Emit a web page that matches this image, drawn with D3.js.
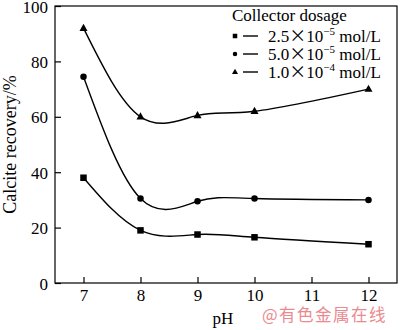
<!DOCTYPE html>
<html>
<head>
<meta charset="utf-8">
<script src="https://cdn.jsdelivr.net/npm/d3@7"></script>
<style>
  html, body { margin: 0; padding: 0; background: #fff; }
  svg { display: block; }
  svg text { font-family: "Liberation Serif", "Times New Roman", serif; fill: #000; }
</style>
</head>
<body>
<svg id="chart" width="400" height="330"></svg>
<script>
// pH values at which recovery was measured
const pH = [7, 8, 9, 10, 12];
// Calcite recovery (%) for each collector dosage
const low = [38, 19, 17.5, 16.5, 14];        // 2.5×10^-5 mol/L
const mid = [74.5, 30.5, 29.5, 30.5, 30];    // 5.0×10^-5 mol/L
const high = [92, 60, 60.5, 62, 70];         // 1.0×10^-4 mol/L
const xTicks = [7, 8, 9, 10, 11, 12];
const yTicks = [0, 20, 40, 60, 80, 100];
const seriesNames = ["2.5", "5.0", "1.0"];
const seriesExp = ["−5", "−5", "−4"];

const serif = "'Liberation Serif', 'Times New Roman', serif";
const svg = d3.select("#chart");
const m = { left: 55, right: 397, top: 6, bottom: 283 };

const x = d3.scaleLinear().domain([6.5, 12.5]).range([m.left, m.right]);
const y = d3.scaleLinear().domain([0, 100]).range([m.bottom, m.top]);

// frame
svg.append("rect")
  .attr("x", m.left).attr("y", m.top)
  .attr("width", m.right - m.left).attr("height", m.bottom - m.top)
  .attr("fill", "none").attr("stroke", "#000").attr("stroke-width", 1.2);

// axes with inward ticks
const xAxis = svg.append("g")
  .attr("transform", `translate(0,${m.bottom})`)
  .call(d3.axisBottom(x).tickValues(xTicks).tickFormat(d3.format("d"))
    .tickSizeInner(-6).tickSizeOuter(0).tickPadding(6));
const yAxis = svg.append("g")
  .attr("transform", `translate(${m.left},0)`)
  .call(d3.axisLeft(y).tickValues(yTicks).tickFormat(d3.format("d"))
    .tickSizeInner(-6).tickSizeOuter(0).tickPadding(7));

[xAxis, yAxis].forEach(g => {
  g.select(".domain").remove();
  g.attr("font-family", serif).attr("font-size", 17);
  g.selectAll(".tick line").attr("stroke", "#000").attr("stroke-width", 1.2);
  g.selectAll(".tick text")
    .style("font-family", serif)
    .style("font-size", "17px").style("fill", "#000");
});
yAxis.selectAll(".tick text").attr("dy", "0.36em");

// series
const data = [low, mid, high];
const line = d3.line()
  .x((d, i) => x(pH[i]))
  .y(d => y(d))
  .curve(d3.curveNatural);

data.forEach(vals => {
  svg.append("path")
    .attr("d", line(vals))
    .attr("fill", "none")
    .attr("stroke", "#000")
    .attr("stroke-width", 1.4);
});

function marker(g, type, cx, cy, s) {
  if (type === 0) {
    g.append("rect").attr("x", cx - s / 2).attr("y", cy - s / 2)
      .attr("width", s).attr("height", s).attr("fill", "#000");
  } else if (type === 1) {
    g.append("circle").attr("cx", cx).attr("cy", cy).attr("r", s / 2).attr("fill", "#000");
  } else {
    const h = s * 0.9;
    g.append("path")
      .attr("d", `M${cx},${cy - h * 0.62}L${cx + s / 2},${cy + h * 0.38}L${cx - s / 2},${cy + h * 0.38}Z`)
      .attr("fill", "#000");
  }
}

const marks = svg.append("g");
data.forEach((vals, k) => {
  vals.forEach((v, i) => marker(marks, k, x(pH[i]), y(v), k === 2 ? 8 : 6.5));
});

// legend
const leg = svg.append("g");
leg.append("text").attr("x", 232).attr("y", 21).attr("font-size", 17).text("Collector dosage");
seriesNames.forEach((name, k) => {
  const cy = 36 + k * 18;
  marker(leg, k, 235, cy, k === 2 ? 6 : 4.5);
  leg.append("line").attr("x1", 243).attr("x2", 258).attr("y1", cy).attr("y2", cy)
    .attr("stroke", "#000").attr("stroke-width", 1.4);
  const t = leg.append("text").attr("x", 268).attr("y", cy + 6).attr("font-size", 17);
  t.append("tspan").text(name);
  t.append("tspan").style("font-family", "'Noto Sans CJK SC', sans-serif").text("×");
  t.append("tspan").text("10");
  t.append("tspan").attr("font-size", 11).attr("dy", -7).text(seriesExp[k]);
  t.append("tspan").attr("dy", 7).text(" mol/L");
});

// axis titles
svg.append("text")
  .attr("transform", `translate(15.5,${(m.top + m.bottom) / 2}) rotate(-90)`)
  .attr("text-anchor", "middle").attr("font-size", 18)
  .text("Calcite recovery/%");
svg.append("text")
  .attr("x", 223).attr("y", 324).attr("text-anchor", "middle").attr("font-size", 17)
  .text("pH");

// source mark
svg.append("text")
  .attr("x", 262).attr("y", 321)
  .style("font-family", "'Noto Sans CJK SC', sans-serif")
  .attr("font-size", 16.5).attr("letter-spacing", 1.5)
  .style("fill", "#ea8a90")
  .text("@有色金属在线");
</script>
</body>
</html>
